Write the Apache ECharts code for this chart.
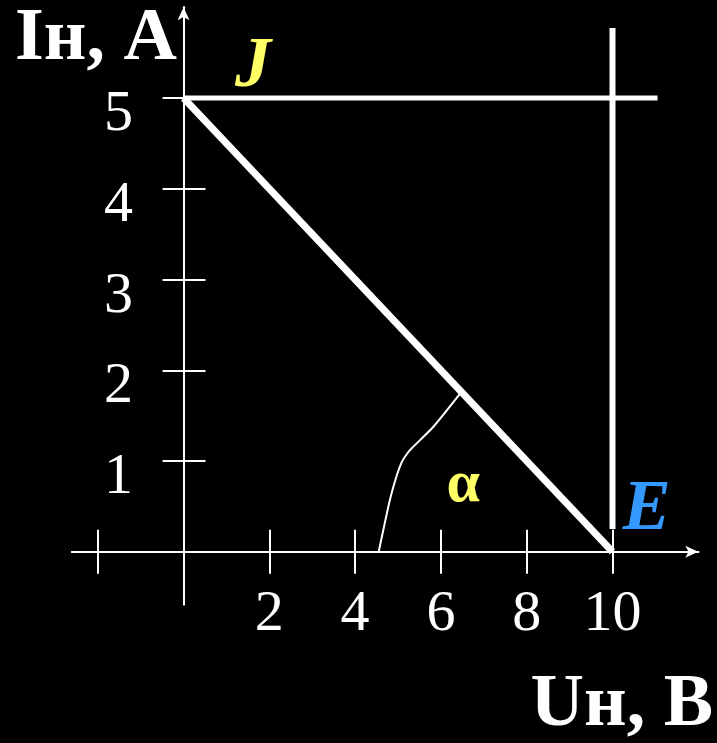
<!DOCTYPE html>
<html>
<head>
<meta charset="utf-8">
<title>Iн(Uн)</title>
<script src="https://cdn.jsdelivr.net/npm/echarts@6/dist/echarts.min.js"></script>
<style>
  html, body { margin: 0; padding: 0; background: #000; }
  #myChart { width: 717px; height: 743px; }
</style>
</head>
<body>
<div id="myChart"></div>
<script>
// tick labels
const xTicks = [-2, 2, 4, 6, 8, 10];
const xLabels = [2, 4, 6, 8, 10];
const yTicks = [1, 2, 3, 4, 5];
const yInnerTicks = [1, 2, 3, 4];

// source current J line, source voltage E line, load line
const jLine = [[0, 5], [11.05, 5]];
const eLine = [[10, 0.25], [10, 5.77]];
const loadLine = [[0, 5], [10, 0]];
// angle arc (hand drawn)
const angleArc = [
  [4.55, 0], [4.81, 0.57], [4.97, 0.84], [5.09, 0.99], [5.21, 1.08],
  [5.32, 1.14], [5.83, 1.38], [6.46, 1.75]
];
// letters: [x, y, text]
const marks = [
  [1.62, 5.34, "J"],
  [10.8, 0.46, "E"],
  [6.52, 0.73, "α"]
];
const markColors = { J: "#ffff66", E: "#3399ff", "α": "#ffff66" };

const serif = "Liberation Serif";

let myChart = echarts.init(document.getElementById("myChart"));

const lineSeries = (data, width) => ({
  type: "line",
  data: data,
  symbol: "none",
  silent: true,
  lineStyle: { color: "#fff", width: width },
  z: 3,
});

const axisName = (bold, plain) => ({
  text: "{b|" + bold + "}{r| " + plain + "}",
  textStyle: {
    rich: {
      b: { fontFamily: serif, fontSize: 74, fontWeight: "bold", color: "#fff" },
      r: { fontFamily: serif, fontSize: 74, color: "#fff" },
    },
  },
});

myChart.setOption({
  backgroundColor: "#000",
  animation: false,
  title: [
    Object.assign(axisName("Iн,", "A"), { left: 10, top: -2 }),
    Object.assign(axisName("Uн,", "B"), { right: -1, top: 664 }),
  ],
  grid: {
    left: 72, right: 18.7, top: 7.25, bottom: 138.6,
    containLabel: false,
    outerBoundsMode: "none",
  },
  xAxis: [
    {
      type: "value",
      min: -2.6,
      max: 12,
      splitLine: { show: false },
      axisLine: {
        onZero: true,
        symbol: ["none", "arrow"],
        symbolSize: [9, 13],
        lineStyle: { color: "#fff", width: 2 },
      },
      axisTick: {
        customValues: xTicks,
        length: 22,
        lineStyle: { color: "#fff", width: 2 },
      },
      axisLabel: {
        customValues: xLabels,
        // labels are laid out from the grid edge here, not the zero line
        margin: -20,
        color: "#fff",
        fontFamily: serif,
        fontSize: 58,
        lineHeight: 60,
        verticalAlign: "top",
      },
    },
    {
      type: "value",
      position: "top",
      min: -2.6,
      max: 12,
      splitLine: { show: false },
      axisLine: {
        onZero: true,
        onZeroAxisIndex: 0,
        lineStyle: { color: "#fff", width: 2 },
      },
      axisTick: {
        customValues: xTicks,
        length: 22,
        lineStyle: { color: "#fff", width: 2 },
      },
      axisLabel: { show: false },
    },
  ],
  yAxis: [
    {
      type: "value",
      min: -0.58,
      max: 6,
      splitLine: { show: false },
      axisLine: {
        onZero: true,
        symbol: ["none", "arrow"],
        symbolSize: [9, 13],
        lineStyle: { color: "#fff", width: 2 },
      },
      axisTick: {
        customValues: yTicks,
        length: 21,
        lineStyle: { color: "#fff", width: 2 },
      },
      axisLabel: {
        customValues: yTicks,
        margin: -61,
        color: "#fff",
        fontFamily: serif,
        fontSize: 58,
        lineHeight: 34,
        align: "right",
        verticalAlign: "top",
      },
    },
    {
      type: "value",
      position: "right",
      min: -0.58,
      max: 6,
      splitLine: { show: false },
      axisLine: {
        onZero: true,
        onZeroAxisIndex: 0,
        lineStyle: { color: "#fff", width: 2 },
      },
      axisTick: {
        customValues: yInnerTicks,
        length: 22,
        lineStyle: { color: "#fff", width: 2 },
      },
      axisLabel: { show: false },
    },
  ],
  series: [
    lineSeries(jLine, 5),
    lineSeries(eLine, 6),
    lineSeries(loadLine, 7),
    Object.assign(lineSeries(angleArc, 2), { smooth: 0.2 }),
    {
      type: "scatter",
      symbolSize: 0,
      silent: true,
      itemStyle: { opacity: 1 },
      data: marks.map((m) => ({
        value: [m[0], m[1]],
        label: {
          show: true,
          position: "inside",
          formatter: m[2],
          color: markColors[m[2]],
          fontFamily: serif,
          fontWeight: "bold",
          fontStyle: m[2] === "α" ? "normal" : "italic",
          fontSize: m[2] === "α" ? 60 : 72,
        },
      })),
      z: 4,
    },
  ],
});
</script>
</body>
</html>
